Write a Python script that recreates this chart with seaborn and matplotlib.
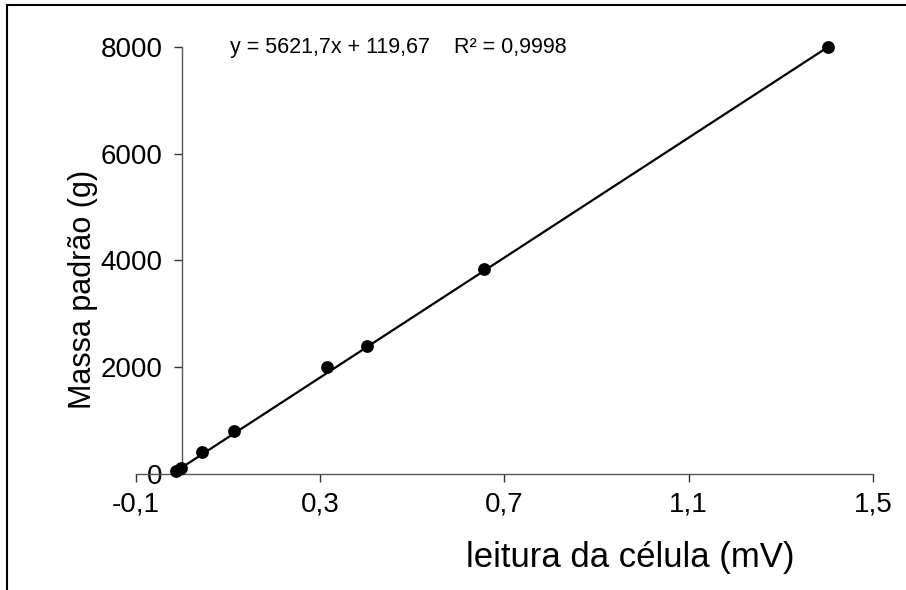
import matplotlib
matplotlib.use("Agg")
import matplotlib.pyplot as plt
from matplotlib.lines import Line2D
from matplotlib.ticker import FuncFormatter
import seaborn as sns
import pandas as pd
import numpy as np

# Calibration readings of the load cell against standard masses
leitura_mv = [-0.013, -0.003, 0.043, 0.113, 0.315, 0.402, 0.656, 1.402]
massa_g = [50, 100, 400, 800, 2000, 2400, 3840, 8000]

# Linear trendline as reported on the chart
inclinacao = 5621.7
intercepto = 119.67
r2 = 0.9998

x_ticks = [-0.1, 0.3, 0.7, 1.1, 1.5]
y_ticks = [0, 2000, 4000, 6000, 8000]

sns.set_theme(style="white")
plt.rcParams["font.family"] = ["Liberation Sans", "DejaVu Sans"]

df = pd.DataFrame({"leitura": leitura_mv, "massa": massa_g})
x_fit = np.array([min(leitura_mv), max(leitura_mv)])
df_fit = pd.DataFrame({"leitura": x_fit, "massa": inclinacao * x_fit + intercepto})

fig = plt.figure(figsize=(9.06, 5.90), dpi=100)
ax = fig.add_axes([0.150, 0.197, 0.8135, 0.723])

sns.lineplot(data=df_fit, x="leitura", y="massa", ax=ax, color="black",
             linewidth=1.6, zorder=2)
sns.scatterplot(data=df, x="leitura", y="massa", ax=ax, color="black",
                s=85, edgecolor="black", linewidth=0, zorder=3, clip_on=False)

ax.set_xlim(-0.1, 1.5)
ax.set_ylim(0, 8000)
ax.set_xticks(x_ticks)
ax.set_yticks(y_ticks)

ax.xaxis.set_major_formatter(FuncFormatter(lambda v, p: f"{v:.1f}".replace(".", ",")))
ax.yaxis.set_major_formatter(FuncFormatter(lambda v, p: f"{v:.0f}"))

ax.spines["top"].set_visible(False)
ax.spines["right"].set_visible(False)
ax.spines["left"].set_position(("data", 0))
for s in ("left", "bottom"):
    ax.spines[s].set_color("#555555")
    ax.spines[s].set_linewidth(1.0)

ax.tick_params(axis="both", which="major", direction="out", length=6,
               width=1.0, color="#333333", labelsize=20, labelcolor="black",
               bottom=True, left=True)
ax.tick_params(axis="y", pad=8)
ax.tick_params(axis="x", pad=7)
ax.set_xlabel("")
ax.set_ylabel("")
ax.grid(False)

fig.text(83 / 906, 1 - 289 / 590, "Massa padrão (g)", rotation=90,
         ha="center", va="center", fontsize=22, color="black")
fig.text(630 / 906, 1 - 558 / 590, "leitura da célula (mV)",
         ha="center", va="center", fontsize=25, color="black")

eq = (f"y = {inclinacao:.1f}x + {intercepto:.2f}".replace(".", ",")
      + "    R² = " + f"{r2:.4f}".replace(".", ","))
fig.text(230 / 906, 1 - 47 / 590, eq, ha="left", va="center",
         fontsize=15.5, color="black")

# Outer frame (left and top edges)
fig.add_artist(Line2D([7 / 906, 7 / 906], [0, 1 - 5 / 590],
                      transform=fig.transFigure, color="black", linewidth=1.5))
fig.add_artist(Line2D([7 / 906, 1], [1 - 5 / 590, 1 - 5 / 590],
                      transform=fig.transFigure, color="black", linewidth=1.5))

fig.savefig("out.png", dpi=100, facecolor="white")
